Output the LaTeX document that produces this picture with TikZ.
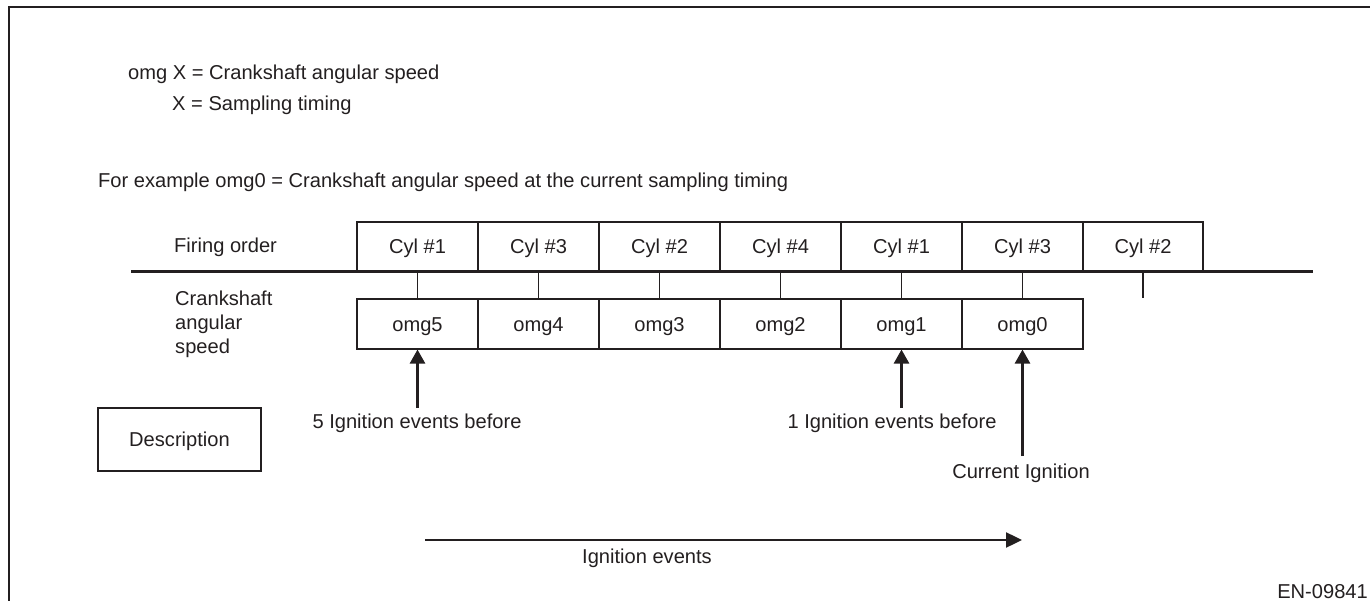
\documentclass[tikz,border=0pt]{standalone}
\usepackage{fontspec}
\setmainfont{Liberation Sans}
\usetikzlibrary{arrows.meta}
\definecolor{ink}{HTML}{231F20}
\begin{document}
\begin{tikzpicture}[x=1pt,y=-1pt,
  every node/.style={font=\fontsize{20.1}{23.5}\selectfont, text=ink, inner sep=0pt},
  cellbox/.style={draw=ink, line width=1.1pt, minimum width=121pt, minimum height=49.5pt, text height=14pt, text depth=0pt},
  descbox/.style={draw=ink, line width=1.1pt, minimum width=163pt, minimum height=63pt, text height=14pt, text depth=0pt},
  frameline/.style={draw=ink, line width=1.4pt},
  axisline/.style={draw=ink, line width=2.4pt},
  tickline/.style={draw=ink, line width=1.1pt},
  bigarrow/.style={draw=ink, line width=2.6pt, -{Triangle[width=15pt,length=14pt]}},
  flowarrow/.style={draw=ink, line width=2.4pt, -{Triangle[width=15pt,length=16pt]}},
  txt/.style={anchor=base west},
]
\useasboundingbox (0,0) rectangle (1370,601);

% frame
\coordinate (fTR) at (1370,7);
\coordinate (fTL) at (9,7);
\coordinate (fBL) at (9,601);
\draw[frameline] (fTR) -- (fTL) -- (fBL);

% header texts
\node[txt] (t1) at (128,80) {omg X = Crankshaft angular speed};
\node[txt] (t2) at (172,111) {X = Sampling timing};
\node[txt] (t3) at (98,188) {For example omg0 = Crankshaft angular speed at the current sampling timing};

% row labels
\node[txt] (fo) at (174,253) {Firing order};
\node[txt] (cr1) at (175,306) {Crankshaft};
\node[txt] (cr2) at (175,330) {angular};
\node[txt] (cr3) at (175,353) {speed};

% cylinder boxes
\node[cellbox] (c1) at (417.5,246.75) {Cyl \#1};
\node[cellbox] (c2) at (538.5,246.75) {Cyl \#3};
\node[cellbox] (c3) at (659.5,246.75) {Cyl \#2};
\node[cellbox] (c4) at (780.5,246.75) {Cyl \#4};
\node[cellbox] (c5) at (901.5,246.75) {Cyl \#1};
\node[cellbox] (c6) at (1022.5,246.75) {Cyl \#3};
\node[cellbox, minimum width=120pt] (c7) at (1143,246.75) {Cyl \#2};

% omg boxes
\node[cellbox, minimum height=50pt] (o5) at (417.5,324) {omg5};
\node[cellbox, minimum height=50pt] (o4) at (538.5,324) {omg4};
\node[cellbox, minimum height=50pt] (o3) at (659.5,324) {omg3};
\node[cellbox, minimum height=50pt] (o2) at (780.5,324) {omg2};
\node[cellbox, minimum height=50pt] (o1) at (901.5,324) {omg1};
\node[cellbox, minimum height=50pt] (o0) at (1022.5,324) {omg0};

% ticks
\draw[tickline] (c1.south) -- (o5.north);
\draw[tickline] (c2.south) -- (o4.north);
\draw[tickline] (c3.south) -- (o3.north);
\draw[tickline] (c4.south) -- (o2.north);
\draw[tickline] (c5.south) -- (o1.north);
\draw[tickline] (c6.south) -- (o0.north);
\coordinate (t7) at (1143,298);
\draw[tickline] (c7.south) -- (t7);

% axis
\coordinate (axL) at (131,271.5);
\coordinate (axR) at (1313,271.5);
\draw[axisline] (axL) -- (axR);

% pointer arrows
\coordinate (a5) at (417.5,408);
\coordinate (a1) at (901.5,408);
\coordinate (a0) at (1022.5,456);
\draw[bigarrow] (a5) -- (o5.south);
\draw[bigarrow] (a1) -- (o1.south);
\draw[bigarrow] (a0) -- (o0.south);

\node[anchor=base] (l5) at (417,428) {5 Ignition events before};
\node[anchor=base] (l1) at (892,428) {1 Ignition events before};
\node[anchor=base] (l0) at (1021,478) {Current Ignition};

% description
\node[descbox] (desc) at (179.5,439.5) {Description};

% ignition events arrow
\coordinate (ie1) at (425,540);
\coordinate (ie2) at (1022,540);
\draw[flowarrow] (ie1) -- (ie2);
\node[anchor=base] (iel) at (647,563) {Ignition events};

% figure code
\node[anchor=base east] (code) at (1368,598) {EN-09841};
\end{tikzpicture}
\end{document}
